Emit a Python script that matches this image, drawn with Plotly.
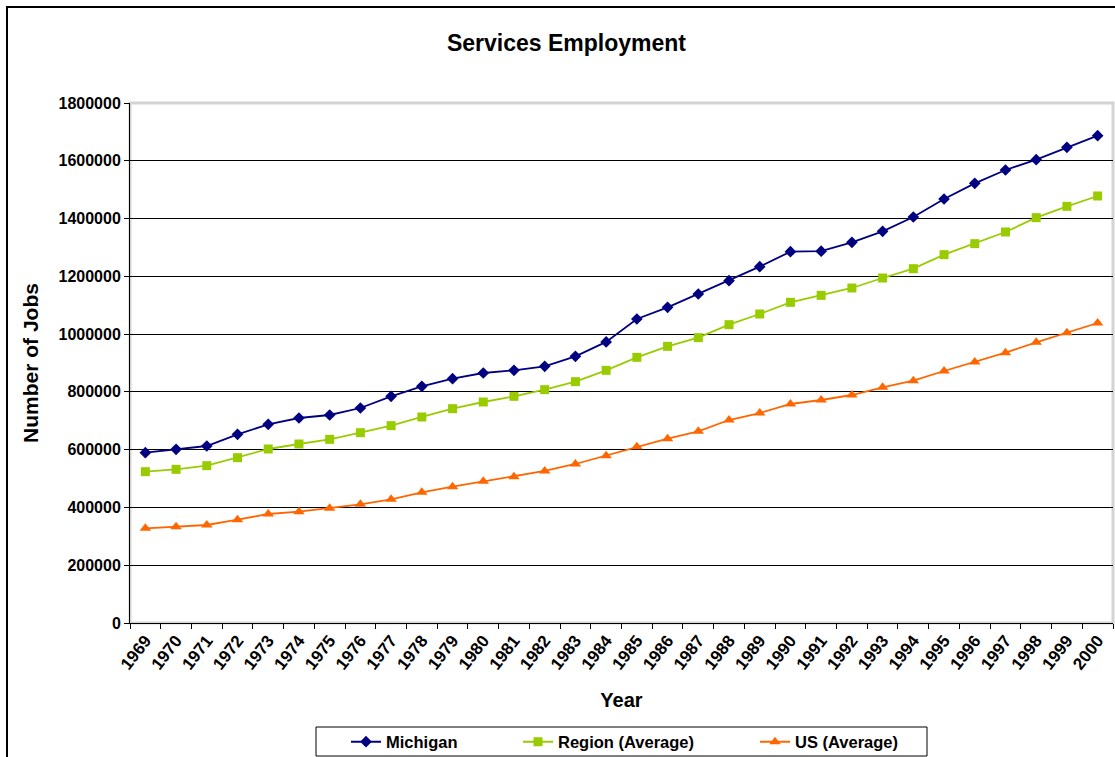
import plotly.graph_objects as go

years = [str(y) for y in range(1969, 2001)]

michigan = [589600, 601200, 612700, 653000, 687700, 709600, 720000, 744200,
            784600, 819200, 845800, 865400, 874600, 888400, 923000, 973000,
            1052300, 1092700, 1138800, 1185000, 1233500, 1285400, 1287000, 1317700,
            1355700, 1405400, 1467700, 1521900, 1568000, 1603800, 1646500, 1686900]

region = [523800, 531900, 544600, 572300, 602300, 619600, 635700, 658800,
          683100, 713100, 741900, 765000, 784600, 807700, 835400, 874600,
          919600, 957700, 987700, 1032700, 1069600, 1110000, 1134200, 1159600,
          1194200, 1226500, 1275000, 1313100, 1353500, 1403100, 1442300, 1478100]

us = [327700, 333400, 339200, 357700, 377300, 385400, 396900, 410700,
      428100, 452300, 471900, 490400, 506500, 526200, 550400, 579200,
      610400, 638100, 663500, 702700, 726900, 758100, 771900, 789200,
      815800, 838800, 872300, 903500, 935800, 971500, 1005000, 1038500]

y_ticks = [0, 200000, 400000, 600000, 800000, 1000000, 1200000, 1400000, 1600000, 1800000]

FONT = "Liberation Sans, Arial, sans-serif"

fig = go.Figure()
fig.add_trace(go.Scatter(x=years, y=michigan, name="Michigan", mode="lines+markers",
                         line=dict(color="#000080", width=1.8),
                         marker=dict(symbol="diamond", size=9, color="#000080"),
                         legend="legend"))
fig.add_trace(go.Scatter(x=years, y=region, name="Region (Average)", mode="lines+markers",
                         line=dict(color="#99CC00", width=1.8),
                         marker=dict(symbol="square", size=9, color="#99CC00"),
                         legend="legend2"))
fig.add_trace(go.Scatter(x=years, y=us, name="US (Average)", mode="lines+markers",
                         line=dict(color="#FF6600", width=1.8),
                         marker=dict(symbol="triangle-up", size=10, color="#FF6600"),
                         legend="legend3"))

leg_common = dict(orientation="h", yanchor="middle", xanchor="left",
                  bgcolor="rgba(0,0,0,0)", borderwidth=0,
                  font=dict(family=FONT, size=16.5, color="black", weight="bold"))

fig.update_layout(
    width=1115, height=757,
    margin=dict(l=130, r=2, t=103, b=134, autoexpand=False),
    paper_bgcolor="white", plot_bgcolor="white",
    font=dict(family=FONT, color="black"),
    title=dict(text="Services Employment", x=0.508, xref="container", xanchor="center",
               y=1 - 43 / 757, yref="container", yanchor="middle",
               font=dict(family=FONT, size=23, color="black", weight="bold")),
    xaxis=dict(type="category", categoryorder="array", categoryarray=years,
               tickson="boundaries", ticks="outside", ticklen=5, tickcolor="black",
               tickangle=-52, showgrid=False, showline=True, linecolor="black", linewidth=1,
               automargin=False,
               tickfont=dict(family=FONT, size=17, color="black", weight="bold"),
               title=dict(text="Year", standoff=20,
                          font=dict(family=FONT, size=20, color="black", weight="bold")),
               range=[-0.5, 31.5]),
    yaxis=dict(range=[0, 1800000], tickvals=y_ticks, tickformat="d",
               ticks="outside", ticklen=5, tickcolor="black",
               showgrid=True, gridcolor="black", gridwidth=1, zeroline=False,
               showline=True, linecolor="black", linewidth=1, automargin=False,
               tickfont=dict(family=FONT, size=16, color="black", weight="bold"),
               title=dict(text="Number of Jobs", standoff=14,
                          font=dict(family=FONT, size=21, color="black", weight="bold"))),
    legend=dict(x=(346 - 130) / 983, y=(623 - 742) / 520, **leg_common),
    legend2=dict(x=(518 - 130) / 983, y=(623 - 742) / 520, **leg_common),
    legend3=dict(x=(755 - 130) / 983, y=(623 - 742) / 520, **leg_common),
    showlegend=True,
)

# plot-area frame (light grey), outer chart border, legend box
fig.add_shape(type="rect", xref="paper", yref="paper", x0=0, x1=1, y0=0, y1=1,
              line=dict(color="#d4d4d4", width=3), layer="below")
fig.add_shape(type="rect", xref="paper", yref="paper",
              x0=(7 - 130) / 983, x1=1.05, y0=-0.5, y1=(623 - 7) / 520,
              line=dict(color="black", width=2))
fig.add_shape(type="rect", xref="paper", yref="paper",
              x0=(316 - 130) / 983, x1=(927 - 130) / 983,
              y0=(623 - 756) / 520, y1=(623 - 727) / 520,
              line=dict(color="black", width=1))

fig.write_html("out.html", config={"displayModeBar": False},
               post_script="document.body.style.margin='0';document.body.style.overflow='hidden';")
